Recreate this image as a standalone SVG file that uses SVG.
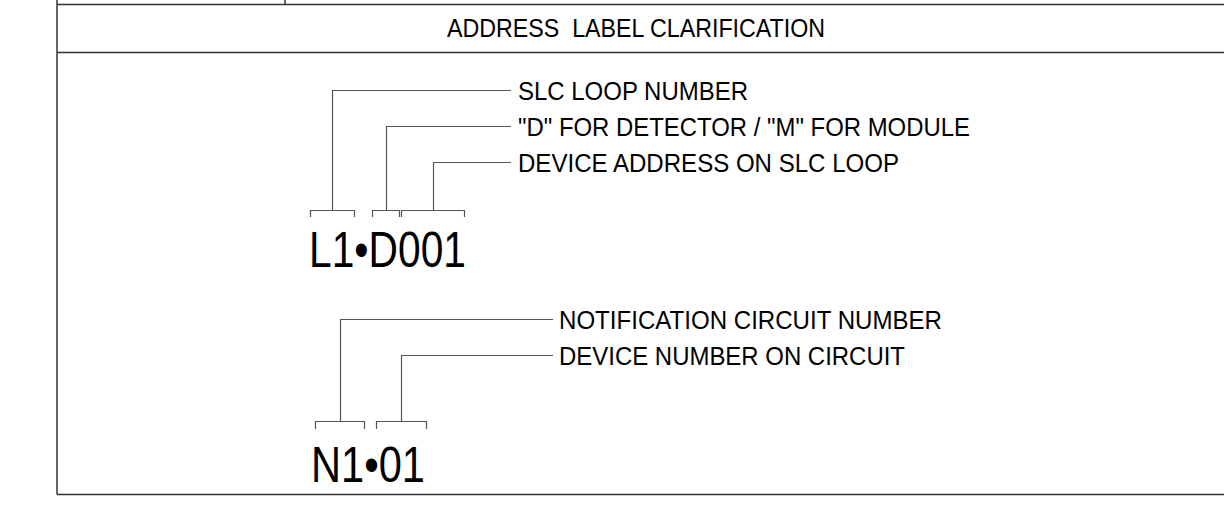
<svg xmlns="http://www.w3.org/2000/svg" width="1224" height="506" viewBox="0 0 1224 506">
<style>
.frame{stroke:#333;stroke-width:1.5;fill:none}
.ld{stroke:#555;stroke-width:1.2;fill:none}
.lbl{font-family:"Liberation Sans",Arial,sans-serif;font-size:25px;fill:#000}
.big{font-family:"Liberation Sans Narrow","Liberation Sans",Arial,sans-serif;font-size:50px;fill:#000}
</style>
<rect width="1224" height="506" fill="#fff"/>
<g id="frame">
<line class="frame" x1="57" y1="0" x2="57" y2="494.5"/>
<line class="frame" x1="57" y1="4.5" x2="1224" y2="4.5"/>
<line class="frame" x1="285" y1="0" x2="285" y2="4.5"/>
<line class="frame" x1="57" y1="52.5" x2="1224" y2="52.5"/>
<line class="frame" x1="57" y1="494.5" x2="1224" y2="494.5"/>
</g>
<g id="title">
<text class="lbl" x="447" y="36.5" textLength="378" lengthAdjust="spacingAndGlyphs" xml:space="preserve">ADDRESS  LABEL CLARIFICATION</text>
</g>
<g id="slc-label">
<text class="big" x="309" y="267" textLength="157" lengthAdjust="spacingAndGlyphs">L1•D001</text>
</g>
<g id="nac-label">
<text class="big" x="311" y="482" textLength="114" lengthAdjust="spacingAndGlyphs">N1•01</text>
</g>
<g id="t-slc"><text class="lbl" x="518" y="100" textLength="230" lengthAdjust="spacingAndGlyphs">SLC LOOP NUMBER</text></g>
<g id="t-dm"><text class="lbl" x="518" y="136" textLength="452" lengthAdjust="spacingAndGlyphs">"D" FOR DETECTOR / "M" FOR MODULE</text></g>
<g id="t-addr"><text class="lbl" x="518" y="172" textLength="381" lengthAdjust="spacingAndGlyphs">DEVICE ADDRESS ON SLC LOOP</text></g>
<g id="t-nac"><text class="lbl" x="559" y="329" textLength="383" lengthAdjust="spacingAndGlyphs">NOTIFICATION CIRCUIT NUMBER</text></g>
<g id="t-dev"><text class="lbl" x="559" y="365" textLength="346" lengthAdjust="spacingAndGlyphs">DEVICE NUMBER ON CIRCUIT</text></g>
<g id="connectors">
<path class="ld" d="M310.5,217 V210.5 H354.5 V217 M332.5,210.5 V90.5 H511"/>
<path class="ld" d="M372.5,217 V210.5 H399.5 V217 M386.5,210.5 V126.5 H511"/>
<path class="ld" d="M401.5,217 V210.5 H464.5 V217 M433.5,210.5 V162.5 H511"/>
<path class="ld" d="M315.5,429 V421.5 H364.5 V429 M340.5,421.5 V319.5 H553"/>
<path class="ld" d="M376.5,429 V421.5 H426.5 V429 M401.5,421.5 V355.5 H553"/>
</g>
</svg>
